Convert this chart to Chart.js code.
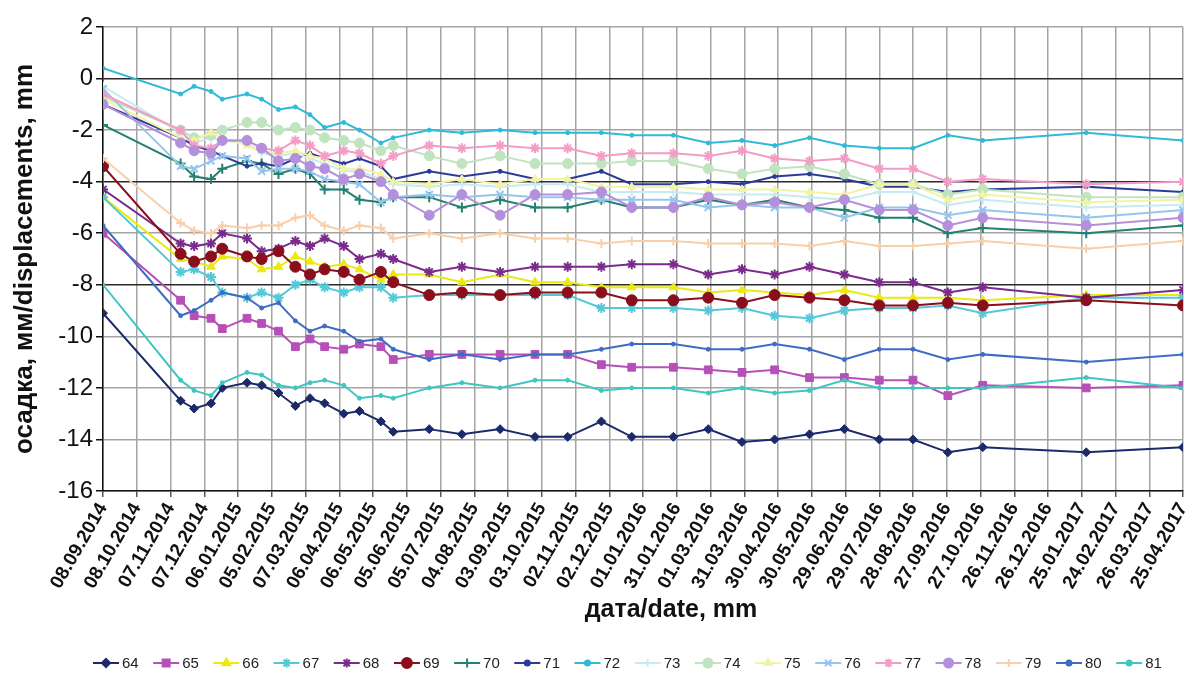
<!DOCTYPE html>
<html><head><meta charset="utf-8">
<script src="https://cdn.jsdelivr.net/npm/chart.js@4"></script>
<style>html,body{margin:0;padding:0;background:#fff}canvas{display:block}</style>
</head><body>
<canvas id="c" width="1190" height="675"></canvas>
<script>
// ---------- DATA ----------
const tickLabels = ['08.09.2014','08.10.2014','07.11.2014','07.12.2014','06.01.2015','05.02.2015','07.03.2015','06.04.2015','06.05.2015','05.06.2015','05.07.2015','04.08.2015','03.09.2015','03.10.2015','02.11.2015','02.12.2015','01.01.2016','31.01.2016','01.03.2016','31.03.2016','30.04.2016','30.05.2016','29.06.2016','29.07.2016','28.08.2016','27.09.2016','27.10.2016','26.11.2016','26.12.2016','25.01.2017','24.02.2017','26.03.2017','25.04.2017'];
// measurement dates, days after 08.09.2014
const measureDays = [0, 69, 81, 96, 106, 128, 141, 156, 171, 184, 197, 214, 228, 247, 258, 290, 319, 353, 384, 413, 443, 470, 507, 538, 568, 597, 628, 659, 690, 720, 751, 782, 874, 960];

const s64 = [-9.1, -12.5, -12.8, -12.6, -12.0, -11.8, -11.9, -12.2, -12.7, -12.4, -12.6, -13.0, -12.9, -13.3, -13.7, -13.6, -13.8, -13.6, -13.9, -13.9, -13.3, -13.9, -13.9, -13.6, -14.1, -14.0, -13.8, -13.6, -14.0, -14.0, -14.5, -14.3, -14.5, -14.3];
const s65 = [-6.0, -8.6, -9.2, -9.3, -9.7, -9.3, -9.5, -9.8, -10.4, -10.1, -10.4, -10.5, -10.3, -10.4, -10.9, -10.7, -10.7, -10.7, -10.7, -10.7, -11.1, -11.2, -11.2, -11.3, -11.4, -11.3, -11.6, -11.6, -11.7, -11.7, -12.3, -11.9, -12.0, -11.9];
const s66 = [-4.6, -7.0, -7.1, -7.3, -6.9, -7.0, -7.4, -7.3, -6.9, -7.1, -7.3, -7.2, -7.4, -7.8, -7.6, -7.6, -7.9, -7.6, -7.9, -7.9, -8.1, -8.1, -8.1, -8.3, -8.2, -8.3, -8.4, -8.2, -8.5, -8.5, -8.5, -8.6, -8.4, -8.4];
const s67 = [-4.6, -7.5, -7.4, -7.7, -8.3, -8.5, -8.3, -8.5, -8.0, -7.8, -8.1, -8.3, -8.1, -8.1, -8.5, -8.4, -8.4, -8.4, -8.4, -8.4, -8.9, -8.9, -8.9, -9.0, -8.9, -9.2, -9.3, -9.0, -8.9, -8.9, -8.8, -9.1, -8.5, -8.5];
const s68 = [-4.3, -6.4, -6.5, -6.4, -6.0, -6.2, -6.7, -6.6, -6.3, -6.5, -6.2, -6.5, -7.0, -6.8, -7.0, -7.5, -7.3, -7.5, -7.3, -7.3, -7.3, -7.2, -7.2, -7.6, -7.4, -7.6, -7.3, -7.6, -7.9, -7.9, -8.3, -8.1, -8.5, -8.2];
const s69 = [-3.4, -6.8, -7.1, -6.9, -6.6, -6.9, -7.0, -6.7, -7.3, -7.6, -7.4, -7.5, -7.8, -7.5, -7.9, -8.4, -8.3, -8.4, -8.3, -8.3, -8.3, -8.6, -8.6, -8.5, -8.7, -8.4, -8.5, -8.6, -8.8, -8.8, -8.7, -8.8, -8.6, -8.8];
const s70 = [-1.8, -3.3, -3.8, -3.9, -3.5, -3.2, -3.3, -3.7, -3.5, -3.7, -4.3, -4.3, -4.7, -4.8, -4.6, -4.6, -5.0, -4.7, -5.0, -5.0, -4.7, -5.0, -5.0, -4.7, -4.9, -4.7, -5.0, -5.1, -5.4, -5.4, -6.0, -5.8, -6.0, -5.7];
const s71 = [-1.0, -2.3, -2.6, -2.8, -3.0, -3.4, -3.3, -3.4, -3.1, -2.9, -3.1, -3.3, -3.1, -3.4, -3.9, -3.6, -3.8, -3.6, -3.9, -3.9, -3.6, -4.1, -4.1, -4.0, -4.1, -3.8, -3.7, -3.9, -4.2, -4.2, -4.4, -4.3, -4.2, -4.4];
const s72 = [0.4, -0.6, -0.3, -0.5, -0.8, -0.6, -0.8, -1.2, -1.1, -1.4, -1.9, -1.7, -2.0, -2.5, -2.3, -2.0, -2.1, -2.0, -2.1, -2.1, -2.1, -2.2, -2.2, -2.5, -2.4, -2.6, -2.3, -2.6, -2.7, -2.7, -2.2, -2.4, -2.1, -2.4];
const s73 = [-0.3, -2.1, -2.5, -2.3, -2.4, -2.5, -2.9, -3.0, -2.9, -3.1, -3.3, -3.6, -3.6, -3.9, -4.1, -4.2, -4.1, -4.2, -4.1, -4.1, -4.4, -4.4, -4.4, -4.5, -4.5, -4.5, -4.6, -4.7, -4.4, -4.4, -4.9, -4.7, -5.0, -4.9];
const s74 = [-0.7, -2.0, -2.3, -2.2, -2.0, -1.7, -1.7, -2.0, -1.9, -2.0, -2.3, -2.4, -2.5, -2.8, -2.6, -3.0, -3.3, -3.0, -3.3, -3.3, -3.3, -3.2, -3.2, -3.5, -3.7, -3.5, -3.4, -3.7, -4.1, -4.1, -4.5, -4.3, -4.6, -4.6];
const s75 = [-0.8, -2.3, -2.4, -2.1, -2.3, -2.6, -2.8, -2.9, -2.8, -3.0, -3.1, -3.5, -3.5, -3.7, -4.0, -4.1, -3.9, -4.1, -3.9, -3.9, -4.2, -4.2, -4.2, -4.3, -4.3, -4.3, -4.4, -4.5, -4.1, -4.1, -4.7, -4.5, -4.8, -4.7];
const s76 = [-0.4, -3.4, -3.5, -3.2, -3.0, -3.1, -3.6, -3.5, -3.5, -3.6, -3.9, -4.0, -4.1, -4.8, -4.6, -4.5, -4.6, -4.5, -4.6, -4.6, -4.7, -4.7, -4.7, -5.0, -4.9, -5.0, -5.0, -5.4, -5.0, -5.0, -5.3, -5.1, -5.4, -5.1];
const s77 = [-0.6, -2.0, -2.6, -2.7, -2.4, -2.4, -2.7, -2.8, -2.4, -2.6, -3.0, -2.8, -2.9, -3.3, -3.0, -2.6, -2.7, -2.6, -2.7, -2.7, -3.0, -2.9, -2.9, -3.0, -2.8, -3.1, -3.2, -3.1, -3.5, -3.5, -4.0, -3.9, -4.1, -4.0];
const s78 = [-1.0, -2.5, -2.8, -2.9, -2.4, -2.4, -2.7, -3.2, -3.1, -3.4, -3.5, -3.9, -3.7, -4.0, -4.5, -5.3, -4.5, -5.3, -4.5, -4.5, -4.4, -5.0, -5.0, -4.6, -4.9, -4.8, -5.0, -4.7, -5.1, -5.1, -5.7, -5.4, -5.7, -5.4];
const s79 = [-3.1, -5.6, -5.9, -6.0, -5.7, -5.8, -5.7, -5.7, -5.4, -5.3, -5.7, -5.9, -5.7, -5.8, -6.2, -6.0, -6.2, -6.0, -6.2, -6.2, -6.4, -6.3, -6.3, -6.4, -6.4, -6.4, -6.5, -6.3, -6.5, -6.5, -6.4, -6.3, -6.6, -6.3];
const s80 = [-5.7, -9.2, -9.0, -8.6, -8.3, -8.5, -8.9, -8.7, -9.4, -9.8, -9.6, -9.8, -10.2, -10.1, -10.5, -10.9, -10.7, -10.9, -10.7, -10.7, -10.5, -10.3, -10.3, -10.5, -10.5, -10.3, -10.5, -10.9, -10.5, -10.5, -10.9, -10.7, -11.0, -10.7];
const s81 = [-8.0, -11.7, -12.1, -12.3, -11.8, -11.4, -11.5, -11.9, -12.0, -11.8, -11.7, -11.9, -12.4, -12.3, -12.4, -12.0, -11.8, -12.0, -11.7, -11.7, -12.1, -12.0, -12.0, -12.2, -12.0, -12.2, -12.1, -11.7, -12.0, -12.0, -12.0, -12.0, -11.6, -12.0];

const seriesNames = ['64','65','66','67','68','69','70','71','72','73','74','75','76','77','78','79','80','81'];
const seriesValues = [s64,s65,s66,s67,s68,s69,s70,s71,s72,s73,s74,s75,s76,s77,s78,s79,s80,s81];

// ---------- STYLE ----------
const seriesColors = ['#1c2a6b','#b64fb8','#eaea12','#55c8d8','#7a2b8c','#8a0f1c','#258070','#2c3b98','#2fbad8','#c6ebf1','#c0e4c0','#f3f3a4','#95c5ec','#f39cc5','#b48fdb','#f8cfab','#3f6cc2','#3fc6c0'];
const seriesMarkers = ['rectRot','rect','triangle','star','star','circle','cross','circle','circle','cross','circle','triangle','crossRot','star','circle','cross','circle','circle'];
const markerRadius = [4.5,5.5,5,5,5,5.5,5,2,2,4.5,5,4.5,5,5,5,4.5,2,2];
const FONT = "'Liberation Sans', Arial, sans-serif";
const darkLines = [0, -4, -8];
const xTitle = 'дата/date, mm';

const datasets = seriesNames.map((name, i) => ({
  label: name,
  data: measureDays.map((d, k) => ({x: d, y: seriesValues[i][k]})),
  borderColor: seriesColors[i],
  backgroundColor: seriesColors[i],
  borderWidth: 2,
  pointStyle: seriesMarkers[i],
  pointRadius: markerRadius[i],
  pointBorderWidth: ['star','cross','crossRot'].includes(seriesMarkers[i]) ? 2 : 1,
  pointBackgroundColor: seriesColors[i],
  pointBorderColor: seriesColors[i],
  tension: 0,
  order: seriesNames.length - i
}));

const legendPlugin = {
  id: 'customLegend',
  afterDraw(chart) {
    const ctx = chart.ctx;
    ctx.save();
    // x axis title (drawn manually to match its horizontal position)
    ctx.font = 'bold 25px ' + FONT;
    ctx.fillStyle = '#111';
    ctx.textAlign = 'center';
    ctx.textBaseline = 'middle';
    ctx.fillText(xTitle, 671, 610);
    // legend
    ctx.textAlign = 'left';
    ctx.font = '15px ' + FONT;
    const y = 663, lineLen = 26, gapText = 3, gapItem = 14.5;
    let x = 93;
    chart.data.datasets.forEach((ds) => {
      ctx.strokeStyle = ds.borderColor;
      ctx.fillStyle = ds.borderColor;
      ctx.lineWidth = 2;
      ctx.beginPath();
      ctx.moveTo(x, y); ctx.lineTo(x + lineLen, y); ctx.stroke();
      if (Chart.helpers && Chart.helpers.drawPoint) {
        Chart.helpers.drawPoint(ctx, {pointStyle: ds.pointStyle, radius: Math.max(ds.pointRadius*0.9, 2.5), borderWidth: ds.pointBorderWidth, rotation: 0}, x + lineLen/2, y);
      }
      ctx.fillStyle = '#222';
      ctx.fillText(ds.label, x + lineLen + gapText, y + 1);
      x += lineLen + gapText + ctx.measureText(ds.label).width + gapItem;
    });
    ctx.restore();
  }
};

new Chart(document.getElementById('c'), {
  type: 'line',
  data: { datasets },
  plugins: [legendPlugin],
  options: {
    responsive: false,
    animation: false,
    layout: { padding: { top: 27, right: 2, bottom: 35, left: 0 } },
    plugins: { legend: { display: false }, tooltip: { enabled: false } },
    scales: {
      x: {
        type: 'linear',
        min: 0, max: 960,
        afterFit(s) { s.height = 149; s.paddingLeft = 0; s.paddingRight = 0; },
        ticks: {
          stepSize: 30, autoSkip: false, minRotation: 60, maxRotation: 60,
          color: '#111', padding: 2,
          font: { family: FONT, size: 19, weight: 'bold' },
          callback: v => tickLabels[Math.round(v / 30)] ?? ''
        },
        grid: { color: '#a4a4a4', lineWidth: 1.5, tickLength: 6, tickColor: '#555' },
        border: { color: '#111', width: 1.5 },
        title: { display: false }
      },
      y: {
        min: -16, max: 2,
        afterFit(s) { s.width = 103; s.paddingTop = 0; s.paddingBottom = 0; },
        ticks: { stepSize: 2, color: '#111', padding: 3, font: { family: FONT, size: 24 } },
        grid: {
          color: c => darkLines.includes(c.tick && c.tick.value) ? '#2a2a2a' : '#a4a4a4',
          lineWidth: 1.5, tickLength: 7, tickColor: '#111'
        },
        border: { color: '#111', width: 1.5 },
        title: { display: true, text: 'осадка, мм/displacements, mm', color: '#111', padding: { top: 9, bottom: 0 },
                 font: { family: FONT, size: 26, weight: 'bold' } }
      }
    }
  }
});
</script>
</body></html>
